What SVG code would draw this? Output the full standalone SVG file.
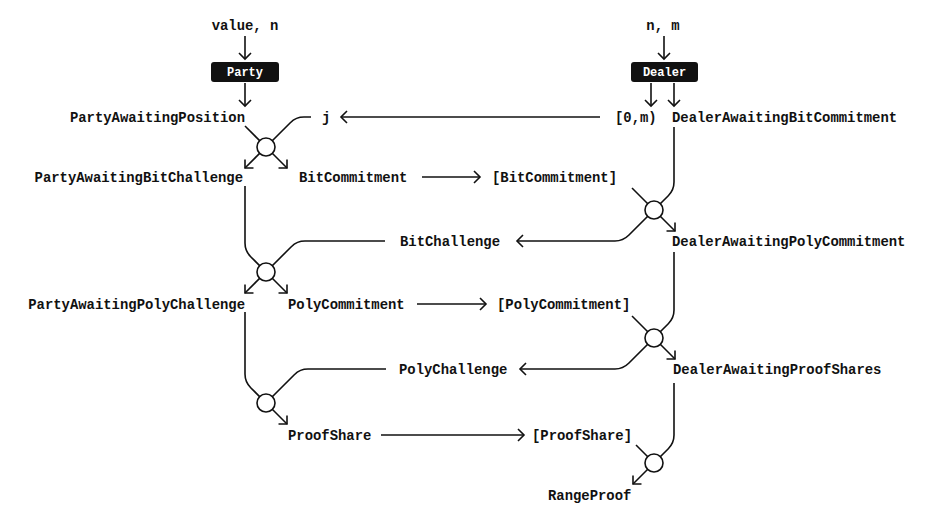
<svg xmlns="http://www.w3.org/2000/svg" width="926" height="516" viewBox="0 0 926 516">
<style>
.t{font-family:"Liberation Mono","DejaVu Sans Mono",monospace;font-size:13.9px;font-weight:bold;fill:#111}
.b{font-family:"Liberation Mono","DejaVu Sans Mono",monospace;font-size:12px;font-weight:bold;fill:#fff}
.c{fill:none;stroke:#111;stroke-width:1.6}
.a{marker-end:url(#ah)}
.j{fill:#fff;stroke:#111;stroke-width:1.6}
</style>
<defs>
<marker id="ah" markerUnits="userSpaceOnUse" markerWidth="16" markerHeight="16" viewBox="-8 -8 16 16" refX="0" refY="0" orient="auto">
<path d="M-6,-6 L0,0 L-6,6" fill="none" stroke="#111" stroke-width="1.6"/>
</marker>
</defs>
<rect width="926" height="516" fill="#fff"/>
<g id="connectors">
<path class="c a" d="M245,36 V59"/>
<path class="c a" d="M245,83 V106"/>
<path class="c a" d="M664,36 V59"/>
<path class="c a" d="M651,83 V106"/>
<path class="c a" d="M674,83 V106"/>
<path class="c a" d="M600,117 H341"/>
<path class="c" d="M245,126 L266,147"/>
<path class="c" d="M311,117 H304 Q296,117 290.3,122.7 L266,147"/>
<path class="c a" d="M266,147 L245,168"/>
<path class="c a" d="M266,147 L287,168"/>
<path class="c a" d="M422,177 H480"/>
<path class="c" d="M245,186 V243 Q245,251 250.7,256.7 L266,272"/>
<path class="c" d="M385,241 H305 Q297,241 291.3,246.7 L266,272"/>
<path class="c a" d="M266,272 L245,293"/>
<path class="c a" d="M266,272 L287,293"/>
<path class="c a" d="M417,304 H486"/>
<path class="c" d="M245,312 V374 Q245,382 250.7,387.7 L266,403"/>
<path class="c" d="M386,369 H308 Q300,369 294.3,374.7 L266,403"/>
<path class="c a" d="M266,403 L287,424"/>
<path class="c a" d="M381,435 H524"/>
<path class="c" d="M674,127 V182 Q674,190 668.3,195.7 L654,210"/>
<path class="c" d="M632,188 L654,210"/>
<path class="c a" d="M654,210 L675,231"/>
<path class="c a" d="M654,210 L628.7,235.3 Q623,241 615,241 H517"/>
<path class="c" d="M674,252 V310 Q674,318 668.3,323.7 L654,338"/>
<path class="c" d="M632,316 L654,338"/>
<path class="c a" d="M654,338 L675,359"/>
<path class="c a" d="M654,338 L628.7,363.3 Q623,369 615,369 H520"/>
<path class="c" d="M674,383 V435 Q674,443 668.3,448.7 L654,463"/>
<path class="c" d="M636,445 L654,463"/>
<path class="c a" d="M654,463 L633,484"/>
</g>
<g id="junction1"><circle class="j" cx="266" cy="147" r="9"/></g>
<g id="junction2"><circle class="j" cx="266" cy="272" r="9"/></g>
<g id="junction3"><circle class="j" cx="266" cy="403" r="9"/></g>
<g id="junction4"><circle class="j" cx="654" cy="210" r="9"/></g>
<g id="junction5"><circle class="j" cx="654" cy="338" r="9"/></g>
<g id="junction6"><circle class="j" cx="654" cy="463" r="9"/></g>
<g id="input-party"><text class="t" x="245" y="30" text-anchor="middle">value, n</text></g>
<g id="input-dealer"><text class="t" x="663" y="30" text-anchor="middle">n, m</text></g>
<g id="party"><rect x="211" y="62" width="68" height="20" rx="3" fill="#111"/><text class="b" x="245" y="76" text-anchor="middle">Party</text></g>
<g id="dealer"><rect x="631" y="62" width="67" height="20" rx="3" fill="#111"/><text class="b" x="664.5" y="76" text-anchor="middle">Dealer</text></g>
<g id="party-awaiting-position"><text class="t" x="245" y="121.5" text-anchor="end">PartyAwaitingPosition</text></g>
<g id="j"><text class="t" x="322" y="121.5">j</text></g>
<g id="range-0-m"><text class="t" x="615" y="121.5">[0,m)</text></g>
<g id="dealer-awaiting-bit-commitment"><text class="t" x="672" y="121.5">DealerAwaitingBitCommitment</text></g>
<g id="party-awaiting-bit-challenge"><text class="t" x="243" y="181.5" text-anchor="end">PartyAwaitingBitChallenge</text></g>
<g id="bit-commitment"><text class="t" x="299" y="181.5">BitCommitment</text></g>
<g id="bit-commitments"><text class="t" x="492" y="181.5">[BitCommitment]</text></g>
<g id="bit-challenge"><text class="t" x="400" y="245.5">BitChallenge</text></g>
<g id="dealer-awaiting-poly-commitment"><text class="t" x="672" y="245.5">DealerAwaitingPolyCommitment</text></g>
<g id="party-awaiting-poly-challenge"><text class="t" x="245" y="309" text-anchor="end">PartyAwaitingPolyChallenge</text></g>
<g id="poly-commitment"><text class="t" x="288" y="309">PolyCommitment</text></g>
<g id="poly-commitments"><text class="t" x="497" y="309">[PolyCommitment]</text></g>
<g id="poly-challenge"><text class="t" x="399" y="374">PolyChallenge</text></g>
<g id="dealer-awaiting-proof-shares"><text class="t" x="673" y="374">DealerAwaitingProofShares</text></g>
<g id="proof-share"><text class="t" x="288" y="439.5">ProofShare</text></g>
<g id="proof-shares"><text class="t" x="532" y="439.5">[ProofShare]</text></g>
<g id="range-proof"><text class="t" x="548" y="500">RangeProof</text></g>
</svg>
